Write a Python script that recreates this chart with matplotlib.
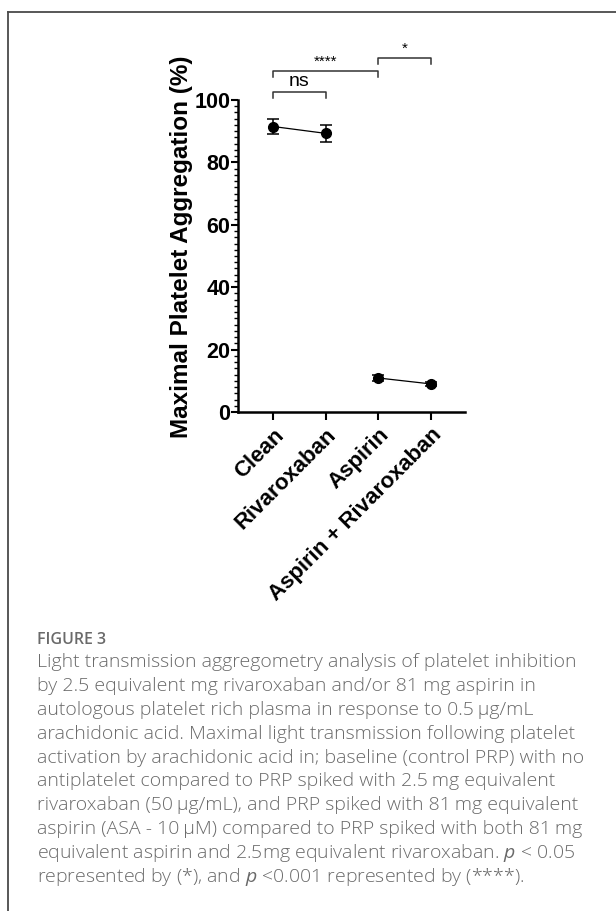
import matplotlib.pyplot as plt
from matplotlib.lines import Line2D
from matplotlib.ticker import MultipleLocator

# data
groups = ["Clean", "Rivaroxaban", "Aspirin", "Aspirin + Rivaroxaban"]
means = [91.5, 89.3, 10.9, 9.0]
errs = [2.3, 2.8, 1.1, 0.7]

# significance brackets: (start group, end group, height, label)
brackets = [
    (0, 1, 102.6, "ns"),
    (0, 2, 109.3, "****"),
    (2, 3, 113.6, "*"),
]

caption_title = "FIGURE 3"
caption_lines = [
    "Light transmission aggregometry analysis of platelet inhibition",
    "by 2.5 equivalent mg rivaroxaban and/or 81 mg aspirin in",
    "autologous platelet rich plasma in response to 0.5\u2009\u00b5g/mL",
    "arachidonic acid. Maximal light transmission following platelet",
    "activation by arachidonic acid in; baseline (control PRP) with no",
    "antiplatelet compared to PRP spiked with 2.5\u2009mg equivalent",
    "rivaroxaban (50\u2009\u00b5g/mL), and PRP spiked with 81\u2009mg equivalent",
    "aspirin (ASA - 10\u2009\u00b5M) compared to PRP spiked with both 81\u2009mg",
    "equivalent aspirin and 2.5mg equivalent rivaroxaban. $p$ < 0.05",
    "represented by (*), and $p$ <0.001 represented by (****).",
]

plt.rcParams["mathtext.fontset"] = "custom"
plt.rcParams["mathtext.it"] = "Open Sans:italic"
plt.rcParams["mathtext.rm"] = "Open Sans"

fig = plt.figure(figsize=(6.16, 9.11), dpi=100)

# figure frame (top + left only)
fig.add_artist(Line2D([8 / 616, 1], [1 - 12 / 911, 1 - 12 / 911], color="#4a4a4a", lw=1.3))
fig.add_artist(Line2D([8 / 616, 8 / 616], [0, 1 - 12 / 911], color="#4a4a4a", lw=1.3))

ax = fig.add_axes([238 / 616, 1 - 412 / 911, 227 / 616, 312 / 911])

x = list(range(len(groups)))
ax.errorbar(x[:2], means[:2], yerr=errs[:2], fmt="o-", color="black", ms=7,
            lw=0.9, elinewidth=1.1, capsize=4, capthick=1.1, clip_on=False)
ax.errorbar(x[2:], means[2:], yerr=errs[2:], fmt="o-", color="black", ms=7,
            lw=0.9, elinewidth=1.1, capsize=4, capthick=1.1, clip_on=False)

ax.set_xlim(-0.67, 3.65)
ax.set_ylim(0, 100)

for spine in ["top", "right"]:
    ax.spines[spine].set_visible(False)
for spine in ["left", "bottom"]:
    ax.spines[spine].set_linewidth(1.8)

ax.yaxis.set_major_locator(MultipleLocator(20))
ax.yaxis.set_minor_locator(MultipleLocator(2))
ax.tick_params(axis="y", which="major", length=5, width=1.5, pad=0.5,
               labelsize=15.5)
ax.tick_params(axis="y", which="minor", length=3, width=1.0)
ax.tick_params(axis="x", length=6, width=1.5, pad=3)
for lab in ax.get_yticklabels():
    lab.set_fontweight("bold")
    lab.set_family("Liberation Sans")

ax.set_xticks(x)
ax.set_xticklabels(groups, rotation=45, ha="right", va="top",
                   rotation_mode="anchor", fontsize=16, fontweight="bold",
                   family="Liberation Sans")

ax.set_ylabel("Maximal Platelet Aggregation (%)", fontsize=17.5,
              fontweight="bold", family="Liberation Sans", labelpad=3)
ax.yaxis.set_label_coords(-0.2, 0.53)

# brackets
for a, b, h, lab in brackets:
    ax.plot([a, a, b, b], [h - 2.0, h, h, h - 2.0], color="#333333", lw=1.1,
            clip_on=False)
    if lab == "ns":
        ax.text((a + b) / 2, h + 0.5, lab, ha="center", va="bottom",
                fontsize=14, family="Liberation Sans")
    else:
        ax.text((a + b) / 2, h + 0.6, lab, ha="center", va="bottom",
                fontsize=11, family="Liberation Sans")

# caption
fig.text(37 / 616, 1 - 640 / 911, caption_title, ha="left", va="center",
         fontsize=11.5, color="#6a6a6a", family="Open Sans", fontweight="semibold")
for i, line in enumerate(caption_lines):
    y = 662 + i * 23.9
    fig.text(37 / 616, 1 - y / 911, line, ha="left", va="center",
             fontsize=14, color="#6a6a6a", family="Open Sans", fontweight="light")

fig.savefig("out.png", dpi=100)
